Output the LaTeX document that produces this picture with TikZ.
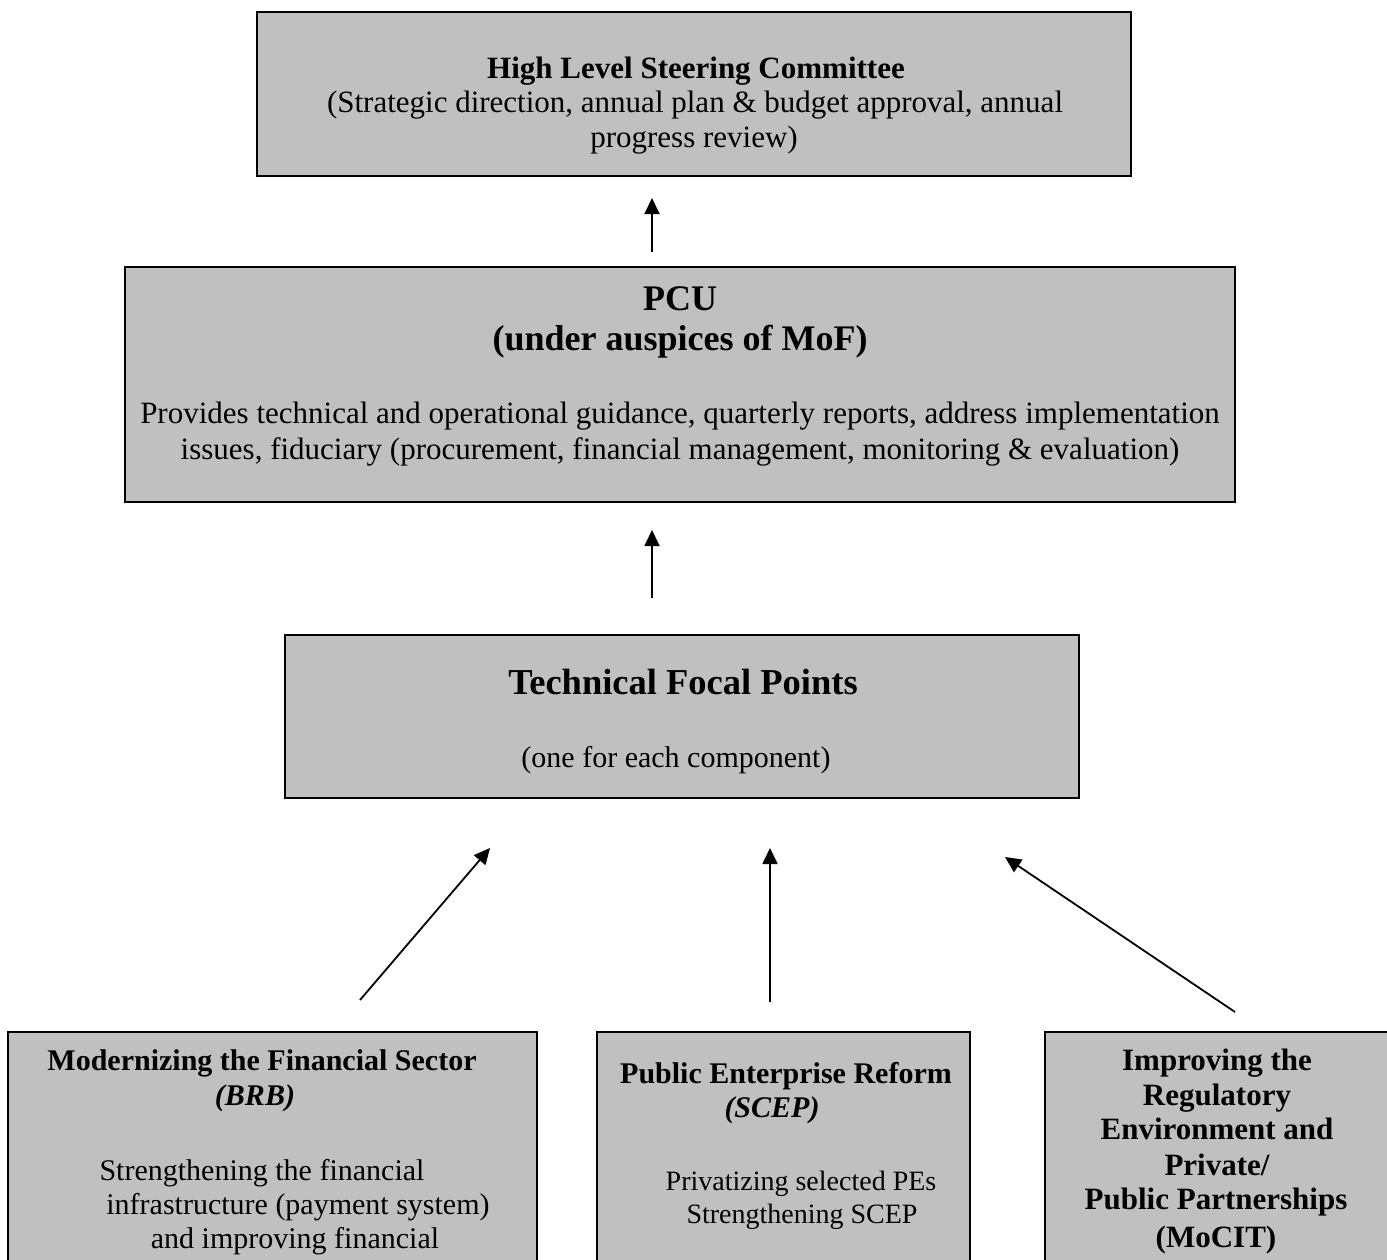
\documentclass[tikz,border=0pt]{standalone}
\usepackage{fontspec}
\setmainfont{Liberation Serif}
\usetikzlibrary{arrows.meta}
\definecolor{boxgray}{HTML}{C0C0C0}
\tikzset{
  x=1pt, y=-1pt,
  panel/.style={draw=black, line width=1.6pt, fill=boxgray},
  txt/.style={anchor=base, inner sep=0pt, font=\fontsize{30}{34.5}\selectfont},
  txtl/.style={anchor=base, inner sep=0pt, font=\fontsize{31}{35}\selectfont},
  txts/.style={anchor=base, inner sep=0pt, font=\fontsize{28}{32}\selectfont},
  btxt/.style={txt, font=\fontsize{30}{34.5}\selectfont\bfseries},
  btxtl/.style={txt, font=\fontsize{31}{35}\selectfont\bfseries},
  bitxt/.style={txt, font=\fontsize{30}{34.5}\selectfont\bfseries\itshape},
  flow/.style={line width=1.8pt, -{Triangle[length=16pt,width=15pt]}}
}
\begin{document}
\begin{tikzpicture}
\useasboundingbox (0,0) rectangle (1387,1259);
% boxes
\path[panel] (257,12) rectangle (1131,176);
\node[inner sep=0pt] (hlsc) at (694,94) {};
\path[panel] (125,267) rectangle (1235,502);
\node[inner sep=0pt] (pcu) at (680,384) {};
\path[panel] (285,635) rectangle (1079,798);
\node[inner sep=0pt] (tfp) at (682,716) {};
\path[panel] (8,1032) rectangle (537,1275);
\path[panel] (597,1032) rectangle (970,1275);
\path[panel] (1045,1032) rectangle (1400,1275);
% top box text
\node[btxtl] (t1) at (696,78) {High Level Steering Committee};
\node[txtl] (t2) at (695,112) {(Strategic direction, annual plan \& budget approval, annual};
\node[txtl] (t3) at (694,147) {progress review)};
% PCU text
\node[txt, font=\fontsize{36}{40}\selectfont\bfseries] (p1) at (680,310) {PCU};
\node[txt, font=\fontsize{36}{40}\selectfont\bfseries] (p2) at (680,350) {(under auspices of MoF)};
\node[txtl] (p3) at (680,423) {Provides technical and operational guidance, quarterly reports, address implementation};
\node[txtl] (p4) at (680,459) {issues, fiduciary (procurement, financial management, monitoring \& evaluation)};
% TFP text
\node[txt, font=\fontsize{36.5}{40}\selectfont\bfseries] (f1) at (683,694) {Technical Focal Points};
\node[txt] (f2) at (676,767) {(one for each component)};
% bottom left
\node[btxt] (l1) at (262,1070) {Modernizing the Financial Sector};
\node[bitxt] (l2) at (255,1105) {(BRB)};
\node[txt] (l3) at (262,1180) {Strengthening the financial};
\node[txt] (l4) at (298,1214) {infrastructure (payment system)};
\node[txt] (l5) at (295,1248) {and improving financial};
% bottom middle
\node[btxt] (m1) at (786,1083) {Public Enterprise Reform};
\node[bitxt] (m2) at (772,1117) {(SCEP)};
\node[txts] (m3) at (801,1190) {Privatizing selected PEs};
\node[txts] (m4) at (802,1223) {Strengthening SCEP};
% bottom right
\node[btxtl] (r1) at (1217,1070) {Improving the};
\node[btxtl] (r2) at (1217,1105) {Regulatory};
\node[btxtl] (r3) at (1217,1139) {Environment and};
\node[btxtl] (r4) at (1217,1175) {Private/};
\node[btxtl] (r5) at (1216,1209) {Public Partnerships};
\node[btxtl] (r6) at (1216,1247) {(MoCIT)};
% arrow endpoints
\coordinate (a1s) at (652,252);
\coordinate (a1e) at (652,198);
\coordinate (a2s) at (652,598);
\coordinate (a2e) at (652,530);
\coordinate (a3s) at (360,1000);
\coordinate (a3e) at (490,848);
\coordinate (a4s) at (770,1002);
\coordinate (a4e) at (770,848);
\coordinate (a5s) at (1235,1012);
\coordinate (a5e) at (1005,857);
\draw[flow] (a1s) -- (a1e);
\draw[flow] (a2s) -- (a2e);
\draw[flow] (a3s) -- (a3e);
\draw[flow] (a4s) -- (a4e);
\draw[flow] (a5s) -- (a5e);
\end{tikzpicture}
\end{document}
